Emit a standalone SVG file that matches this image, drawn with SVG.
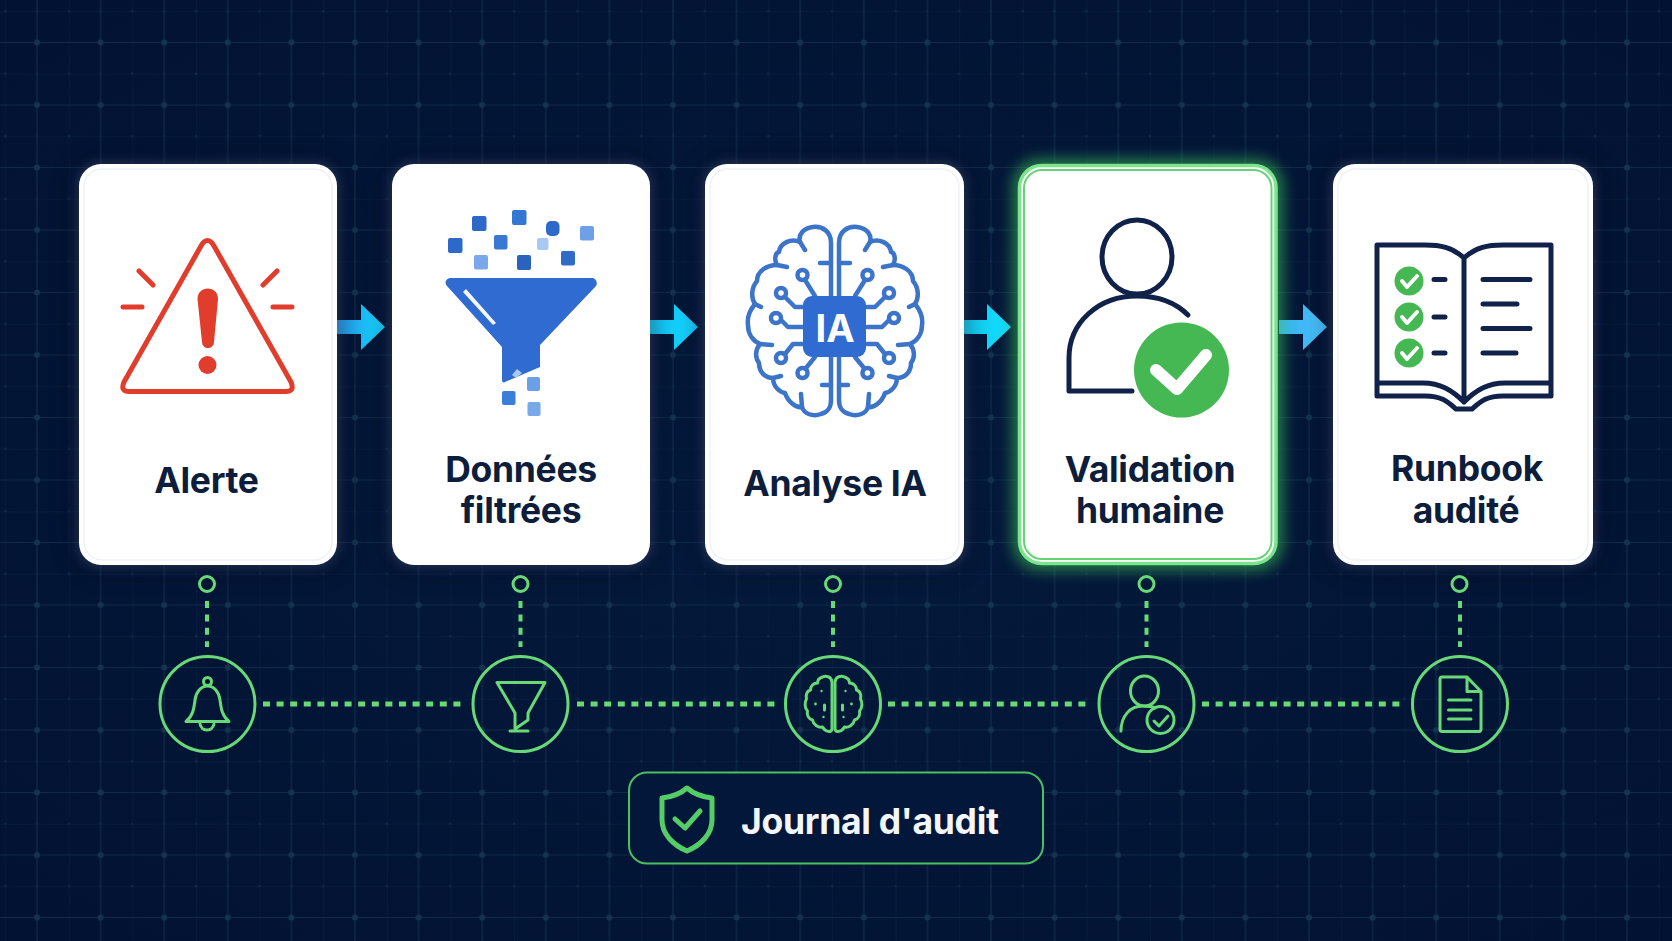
<svg xmlns="http://www.w3.org/2000/svg" width="1672" height="941" viewBox="0 0 1672 941">
<style>
text{font-family:"Inter","Liberation Sans",sans-serif}
.lbl{font-size:35.5px;font-weight:700;fill:#0d1d3c;text-anchor:middle;letter-spacing:-.3px}
.card{fill:#fff}
.inner{fill:none;stroke:#eef2f8;stroke-width:1.5}
.halo{fill:#bcd4f0;opacity:.18;filter:url(#b8)}
.shade{fill:#000a1e;opacity:.6;filter:url(#b14)}
.red{fill:none;stroke:#e03d2c;stroke-width:5;stroke-linecap:round;stroke-linejoin:round}
.bl{fill:none;stroke:#3c74ca;stroke-width:4.5;stroke-linecap:round;stroke-linejoin:round}
.nv{fill:none;stroke:#10224a;stroke-width:5;stroke-linecap:round;stroke-linejoin:round}
.gr{fill:none;stroke:#68d977;stroke-width:3;stroke-linecap:round;stroke-linejoin:round}
.wck{fill:none;stroke:#fff;stroke-linecap:round;stroke-linejoin:round}
.dv{fill:none;stroke:#68d977;stroke-width:4;stroke-dasharray:7 6.4}
.dh{fill:none;stroke:#68d977;stroke-width:5;stroke-dasharray:7 6.6}
.pin{fill:none;stroke:#68d977;stroke-width:3}
</style>
<defs>
<filter id="b8" x="-20%" y="-20%" width="140%" height="140%"><feGaussianBlur stdDeviation="6"/></filter>
<filter id="b14" x="-30%" y="-30%" width="160%" height="160%"><feGaussianBlur stdDeviation="14"/></filter>
<filter id="gl" x="-20%" y="-20%" width="140%" height="140%"><feGaussianBlur stdDeviation="7"/></filter>
<pattern id="grid" patternUnits="userSpaceOnUse" x="5.2" y="11.25" width="63.6" height="62.5">
<path d="M0 0H63.6M0 0V62.5" stroke="#0a2140" stroke-width="1" fill="none"/>
<path d="M31.8 0V62.5M0 31.25H63.6" stroke="#0f2a48" stroke-width="1.2" fill="none"/>
<circle cx="31.8" cy="31.25" r="3" fill="#15324f"/>
<circle cx="0" cy="0" r="1.3" fill="#10294a"/><circle cx="63.6" cy="0" r="1.3" fill="#10294a"/><circle cx="0" cy="62.5" r="1.3" fill="#10294a"/><circle cx="63.6" cy="62.5" r="1.3" fill="#10294a"/>
<circle cx="31.8" cy="0" r="1.200" fill="#10294a"/><circle cx="31.8" cy="62.5" r="1.200" fill="#10294a"/>
</pattern>
<radialGradient id="bg" cx="50%" cy="50%" r="70%"><stop offset="0" stop-color="#041a3c"/><stop offset="1" stop-color="#021232"/></radialGradient>
<linearGradient id="a1" x1="0" x2="1" y1="0" y2="0"><stop offset="0" stop-color="#2a9df0"/><stop offset="1" stop-color="#12d8ff"/></linearGradient>
<linearGradient id="a4" x1="0" x2="1" y1="0" y2="0"><stop offset="0" stop-color="#35b0ee"/><stop offset="1" stop-color="#4cc4ff"/></linearGradient>
<path id="arw" d="M0 -7H24V-23L48 0L24 23V7H0Z"/>
<g id="hemi">
<path class="bl" d="M-4 400V243C-4 231-13 226-22 227C-32 228-37 235-35 242C-44 238-55 243-56 252C-60 253-61 260-58 265C-68 265-78 271-78 281C-84 288-84 298-80 304C-85 310-88 318-87 325C-87 334-82 341-75 344C-80 350-80 358-76 363C-76 372-70 378-62 378C-62 386-56 392-50 393C-47 402-39 408-33 407C-31 414-22 417-14 414C-7 412-4 408-4 400Z" fill="#fff"/>
<path class="bl" d="M-35 242L-30 250M-58 265L-48 267M-80 304L-74 307M-75 344L-63 345M-62 378L-54 376M-33 407L-34 394M-4 263H-15M-4 385H-13"/>
<circle cx="-32.5" cy="275" r="5" class="bl" stroke-width="3.5"/><path class="bl" stroke-width="3" d="M-30 280L-20 296"/>
<circle cx="-54" cy="293" r="5" class="bl" stroke-width="3.5"/><path class="bl" stroke-width="3" d="M-50 297L-40 307H-32"/>
<circle cx="-59" cy="318" r="5" class="bl" stroke-width="3.5"/><path class="bl" stroke-width="3" d="M-54 320L-47 327H-32"/>
<circle cx="-54" cy="358" r="5" class="bl" stroke-width="3.5"/><path class="bl" stroke-width="3" d="M-50 354L-42 344H-32"/>
<circle cx="-32.5" cy="373" r="5" class="bl" stroke-width="3.5"/><path class="bl" stroke-width="3" d="M-29 368L-20 357"/>
</g>
<g id="minihemi">
<path class="gr" d="M-1.500 729V682C-2 677-7 675-11 677C-14 678-16 680-16 683C-20 683-23 686-23 690C-27 691-28 696-27 699C-29 702-29 708-26 711C-27 715-25 719-21 720C-20 725-15 728-11 727C-8 732-2 733-1.500 729Z"/>
<circle cx="-12" cy="691" r="1.200" fill="#68d977"/><circle cx="-18" cy="704" r="1.400" fill="#68d977"/><circle cx="-10" cy="717" r="1.200" fill="#68d977"/><path class="gr" stroke-width="2" d="M-9 705V710"/>
</g>
</defs>

<rect width="1672" height="941" fill="url(#bg)"/>
<rect width="1672" height="941" fill="url(#grid)"/>

<g id="connectors">
<use href="#arw" x="337" y="327" fill="url(#a1)"/>
<use href="#arw" x="650" y="327" fill="#14d0fd"/>
<use href="#arw" x="963" y="327" fill="#12d8fb"/>
<use href="#arw" x="1279" y="327" fill="url(#a4)"/>
<path class="dv" d="M207 601V647M520.500 601V647M833 601V647M1146.500 601V647M1460 601V647"/>
<path class="dh" d="M263 704H465M577 704H778M888 704H1091M1202 704H1405"/>
</g>

<g id="card-alerte">
<rect class="shade" x="79" y="164" width="258" height="401" rx="22"/>
<rect class="halo" x="77" y="162" width="262" height="405" rx="24"/>
<rect class="card" x="79" y="164" width="258" height="401" rx="22"/>
<rect class="inner" x="84" y="169" width="248" height="391" rx="18"/>
<path class="red" d="M207.500 240.500Q204 240.500 201 246L124 382Q120 391.500 129 391.500H286Q295 391.500 291 382L214 246Q211 240.500 207.500 240.500Z"/>
<path d="M197.500 299C197.500 285 218 285 218 299L214 342C213.500 350 202.500 350 202 342Z" fill="#e03d2c"/>
<circle cx="207.500" cy="365" r="9" fill="#e03d2c"/>
<path class="red" d="M123 307H142M273 307H292M139 271L153 285M277 271L263 285"/>
<text class="lbl" x="206.500" y="493">Alerte</text>
</g>

<g id="card-donnees">
<rect class="shade" x="392" y="164" width="258" height="401" rx="22"/>
<rect class="halo" x="390" y="162" width="262" height="405" rx="24"/>
<rect class="card" x="392" y="164" width="258" height="401" rx="22"/>
<g>
<rect x="472" y="216" width="14.500" height="15" rx="2" fill="#2c69c8"/>
<rect x="512" y="210" width="14.500" height="15" rx="2" fill="#3477d2"/>
<rect x="546" y="221" width="13.500" height="15" rx="5" fill="#2c69c8"/>
<rect x="580" y="226" width="14" height="14.500" rx="2" fill="#6ea0e6"/>
<rect x="448" y="238" width="14.500" height="15" rx="2" fill="#2c69c8"/>
<rect x="494" y="235" width="13.500" height="14.500" rx="2" fill="#3b78d4"/>
<rect x="537" y="238" width="11.500" height="12" rx="2" fill="#a9c8f2"/>
<rect x="474" y="255" width="14" height="14.500" rx="2" fill="#7aa8ea"/>
<rect x="517" y="255" width="14" height="15" rx="2" fill="#2a62bf"/>
<rect x="561" y="251" width="14" height="14.500" rx="2" fill="#2f6cc8"/>
<rect x="527" y="377" width="13" height="14" rx="2" fill="#69a0e6"/>
<rect x="502" y="391" width="13.500" height="14" rx="2" fill="#3b7fd8"/>
<rect x="527.500" y="402" width="13" height="14" rx="2" fill="#76a8ea"/>
</g>
<path d="M451 278H592C596 278 598 283 596 286L540 345V367L505 382Q502 384 502 379V347L447 286C444 283 446 278 451 278Z" fill="#2f6bd0"/>
<path d="M463 292L466 289L496 323L493 325Z" fill="#f2f6fd"/>
<path d="M512 375L517 369L522 373L516 378Z" fill="#a9c8f2"/>
<text class="lbl" x="521" y="482">Données</text>
<text class="lbl" x="521" y="523">filtrées</text>
</g>

<g id="card-analyse">
<rect class="shade" x="705" y="164" width="259" height="401" rx="22"/>
<rect class="halo" x="703" y="162" width="263" height="405" rx="24"/>
<rect class="card" x="705" y="164" width="259" height="401" rx="22"/>
<rect class="inner" x="710" y="169" width="249" height="391" rx="18"/>
<use href="#hemi" x="835" y="0"/>
<use href="#hemi" transform="translate(835 0) scale(-1 1)"/>
<rect x="803" y="296" width="63" height="61" rx="9" fill="#2f6bd0"/>
<text x="835" y="342" font-size="38" font-weight="700" fill="#fff" text-anchor="middle">IA</text>
<text class="lbl" x="835" y="496">Analyse IA</text>
</g>

<g id="card-validation">
<rect x="1012" y="158" width="272" height="413" rx="28" fill="#3fd35a" opacity=".5" filter="url(#gl)"/>
<rect x="1019.500" y="165.500" width="256.500" height="398" rx="22" fill="#fff" stroke="#7ce58c" stroke-width="3.500"/>
<rect x="1024" y="170" width="247.500" height="389" rx="18" fill="none" stroke="#66d277" stroke-width="2"/>
<ellipse cx="1137" cy="257" rx="35" ry="37" class="nv"/>
<path class="nv" stroke-linecap="butt" d="M1188 315C1175 302 1157 296 1137 296C1099 296 1069 322 1069 358V391H1132"/>
<circle cx="1181.500" cy="370" r="47.500" fill="#45b854"/>
<path class="wck" stroke-width="12" d="M1156 370L1177 389L1206 355"/>
<text class="lbl" x="1150" y="482">Validation</text>
<text class="lbl" x="1150" y="523">humaine</text>
</g>

<g id="card-runbook">
<rect class="shade" x="1333" y="164" width="260" height="401" rx="22"/>
<rect class="halo" x="1331" y="162" width="264" height="405" rx="24"/>
<rect class="card" x="1333" y="164" width="260" height="401" rx="22"/>
<rect class="inner" x="1338" y="169" width="250" height="391" rx="18"/>
<path class="nv" stroke-linecap="butt" d="M1464 258C1452 247 1440 245 1425 245H1377V396H1425C1442 396 1448 402 1456 409H1472C1480 402 1486 396 1503 396H1551V245H1503C1488 245 1476 247 1464 258V402M1377 383H1423C1440 383 1452 390 1464 402C1476 390 1488 383 1505 383H1551"/>
<g fill="#45b854"><circle cx="1409" cy="281" r="14.500"/><circle cx="1409" cy="317" r="14.500"/><circle cx="1409" cy="353" r="14.500"/></g>
<path class="wck" stroke-width="4" d="M1402 281L1407 287L1417 276M1402 317L1407 323L1417 312M1402 353L1407 359L1417 348"/>
<path class="nv" d="M1434 279.500H1445M1434 317H1445M1434 353H1445M1483 279.500H1530M1483 304H1517M1483 328.500H1530M1483 353H1516"/>
<text class="lbl" x="1467" y="481">Runbook</text>
<text class="lbl" x="1466" y="523">audité</text>
</g>

<g id="audit-alerte">
<circle class="pin" cx="207" cy="584" r="7.500"/>
<circle class="gr" cx="207.500" cy="704" r="47.500" fill="#041a3c"/>
<path class="gr" d="M186 721.500H229C222 716 221 708 220 700C219 692 214 686 207.500 686C201 686 196 692 195 700C194 708 193 716 186 721.500ZM200 724C202 732 212 732 214 724"/>
<circle class="gr" cx="207.500" cy="681.500" r="4" fill="#041a3c"/>
</g>
<g id="audit-donnees">
<circle class="pin" cx="520.500" cy="584" r="7.500"/>
<circle class="gr" cx="520.500" cy="704" r="47.500" fill="#041a3c"/>
<path class="gr" d="M497 682.500H545L528 713V720L515 729V713ZM510 731H528"/>
</g>
<g id="audit-analyse">
<circle class="pin" cx="833" cy="584" r="7.500"/>
<circle class="gr" cx="833" cy="704" r="47.500" fill="#041a3c"/>
<use href="#minihemi" x="833.500" y="0"/>
<use href="#minihemi" transform="translate(833.500 0) scale(-1 1)"/>
</g>
<g id="audit-validation">
<circle class="pin" cx="1146.500" cy="584" r="7.500"/>
<circle class="gr" cx="1146.500" cy="704" r="47.500" fill="#041a3c"/>
<ellipse class="gr" cx="1144.500" cy="691" rx="14" ry="15"/>
<path class="gr" d="M1121 731C1121 716 1130 706 1143 706C1147 706 1152 706 1155 708"/>
<circle class="gr" cx="1160.500" cy="720" r="13.500"/>
<path class="gr" d="M1154 721L1159 726L1168 716"/>
</g>
<g id="audit-runbook">
<circle class="pin" cx="1459.500" cy="584" r="7.500"/>
<circle class="gr" cx="1460" cy="704" r="47.500" fill="#041a3c"/>
<path class="gr" d="M1467 677H1442Q1440 677 1440 679V729Q1440 731.500 1442 731.500H1479Q1481 731.500 1481 729V691.500ZM1467 677V691.500H1481M1448.500 700H1471M1448.500 710H1471M1448.500 719H1471"/>
</g>

<g id="journal">
<rect x="629" y="772.500" width="414" height="91" rx="18" fill="#03173a" stroke="#4cbf60" stroke-width="2"/>
<path d="M687 788C680 794 672 797 662 798V820C662 834 673 845 687 851C701 845 712 834 712 820V798C702 797 694 794 687 788Z" fill="none" stroke="#55cd66" stroke-width="5" stroke-linejoin="round"/>
<path d="M675 819L685 828L700 811" fill="none" stroke="#55cd66" stroke-width="5" stroke-linecap="round" stroke-linejoin="round"/>
<text x="741" y="834" font-size="35.5" font-weight="700" fill="#f4f6fa" letter-spacing="-.3">Journal d'audit</text>
</g>
</svg>
